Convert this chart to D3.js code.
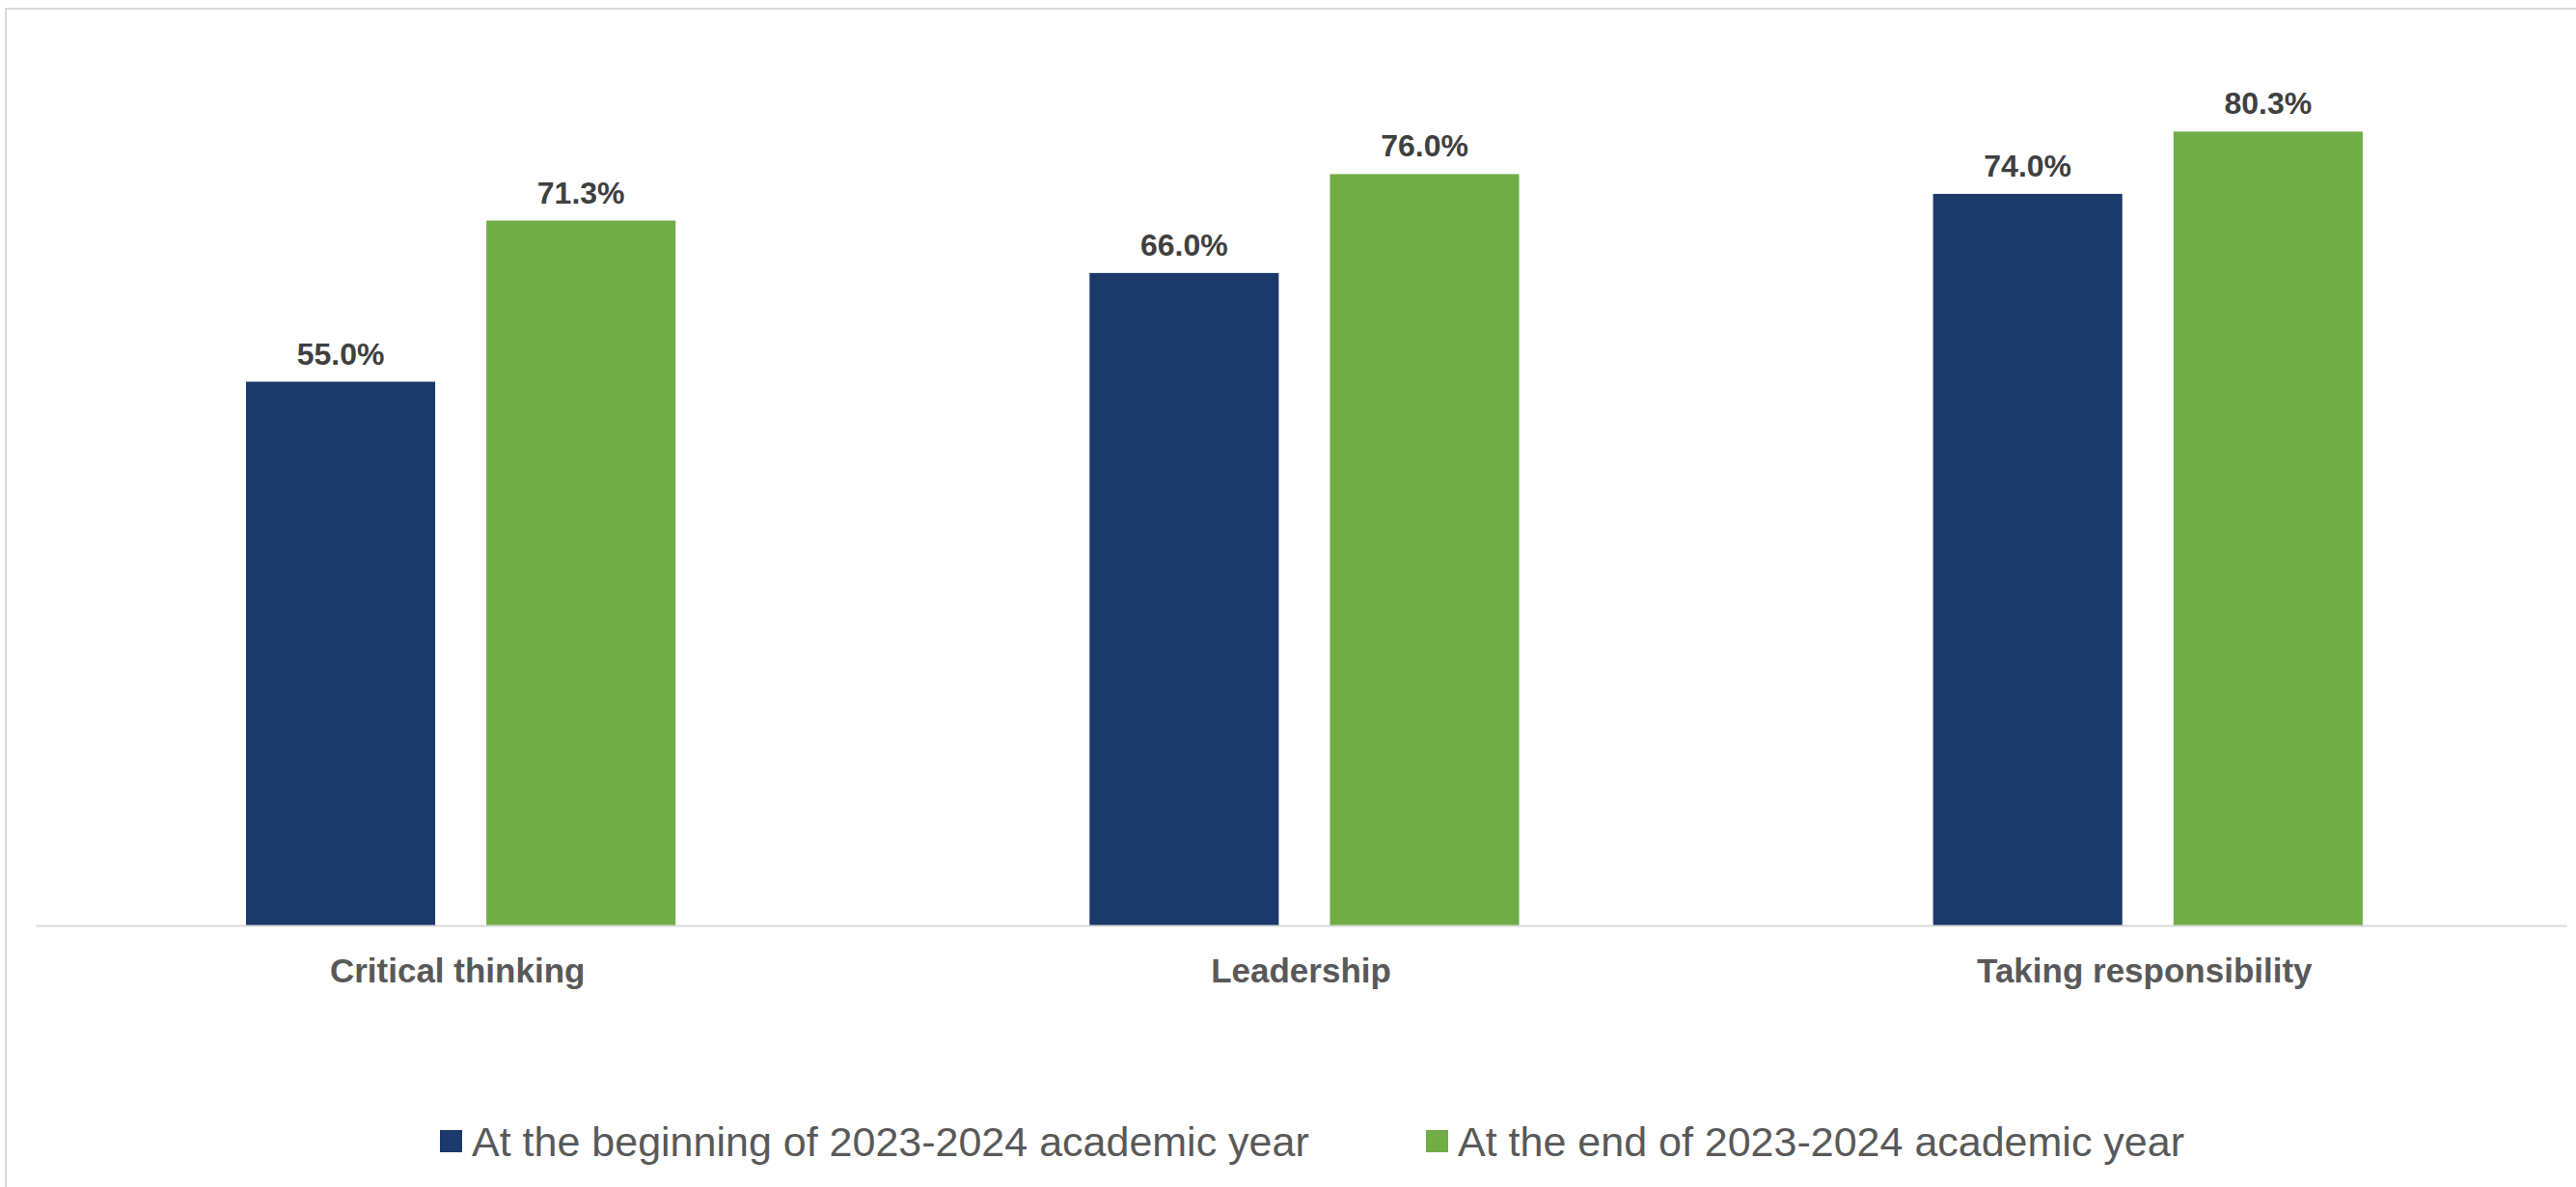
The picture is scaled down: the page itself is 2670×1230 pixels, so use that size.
<!DOCTYPE html>
<html>
<head>
<meta charset="utf-8">
<script src="https://cdn.jsdelivr.net/npm/d3@7"></script>
<style>
  body { margin: 0; background: #fff; }
  svg { display: block; }
</style>
</head>
<body>
<div id="chart"></div>
<script>
// data
const categories = ["Critical thinking", "Leadership", "Taking responsibility"];
const seriesNames = ["At the beginning of 2023-2024 academic year", "At the end of 2023-2024 academic year"];
const beginValues = [55.0, 66.0, 74.0];
const endValues = [71.3, 76.0, 80.3];
const colors = ["#1c396b", "#70ad47"];

const W = 2670, H = 1230;
const margin = {top: 37, right: 10, bottom: 271, left: 37};

const svg = d3.select("#chart")
    .append("svg")
    .attr("width", W)
    .attr("height", H);

// outer frame (runs off the right and bottom edge)
svg.append("rect")
    .attr("x", 6)
    .attr("y", 9)
    .attr("width", W)
    .attr("height", H)
    .attr("fill", "none")
    .attr("stroke", "#d9d9d9")
    .attr("stroke-width", 2);

const x0 = d3.scaleBand()
    .domain(categories)
    .range([margin.left, W - margin.right])
    .padding(0);

const x1 = d3.scaleBand()
    .domain(seriesNames)
    .range([0, x0.bandwidth()])
    .paddingInner(0.213)
    .paddingOuter(0.861)
    .align(0.508);

const y = d3.scaleLinear()
    .domain([0, 90])
    .range([959, margin.top]);

const rows = categories.map((c, i) => ({
    cat: c,
    vals: [
        {s: seriesNames[0], v: beginValues[i], c: colors[0]},
        {s: seriesNames[1], v: endValues[i], c: colors[1]}
    ]
}));

const g = svg.selectAll(".grp")
    .data(rows)
    .enter().append("g")
    .attr("class", "grp")
    .attr("transform", d => `translate(${x0(d.cat)},0)`);

g.selectAll("rect")
    .data(d => d.vals)
    .enter().append("rect")
    .attr("x", d => x1(d.s))
    .attr("y", d => y(d.v))
    .attr("width", x1.bandwidth())
    .attr("height", d => y(0) - y(d.v))
    .attr("fill", d => d.c);

g.selectAll("text.val")
    .data(d => d.vals)
    .enter().append("text")
    .attr("class", "val")
    .attr("x", d => x1(d.s) + x1.bandwidth() / 2)
    .attr("y", d => y(d.v) - 18)
    .attr("text-anchor", "middle")
    .attr("font-family", "'Liberation Sans', Arial, sans-serif")
    .attr("font-weight", "bold")
    .attr("font-size", 32)
    .attr("fill", "#404040")
    .text(d => d.v.toFixed(1) + "%");

// x axis: baseline + category labels
const xAxis = svg.append("g")
    .attr("transform", `translate(0,${y(0)})`)
    .call(d3.axisBottom(x0).tickSize(0).tickPadding(0));

xAxis.select(".domain")
    .attr("stroke", "#d9d9d9")
    .attr("stroke-width", 2);

xAxis.selectAll("text")
    .attr("dy", 0)
    .attr("y", 59)
    .attr("font-family", "'Liberation Sans', Arial, sans-serif")
    .attr("font-weight", "bold")
    .attr("font-size", 35)
    .attr("fill", "#595959");

// legend
const legendX = [456, 1478];
const legend = svg.selectAll(".leg")
    .data(seriesNames)
    .enter().append("g")
    .attr("class", "leg")
    .attr("transform", (d, i) => `translate(${legendX[i]},1171)`);

legend.append("rect")
    .attr("width", 23)
    .attr("height", 23)
    .attr("fill", (d, i) => colors[i]);

legend.append("text")
    .attr("x", 33)
    .attr("y", 27)
    .attr("font-family", "'Liberation Sans', Arial, sans-serif")
    .attr("font-size", 43)
    .attr("fill", "#595959")
    .text(d => d);
</script>
</body>
</html>
